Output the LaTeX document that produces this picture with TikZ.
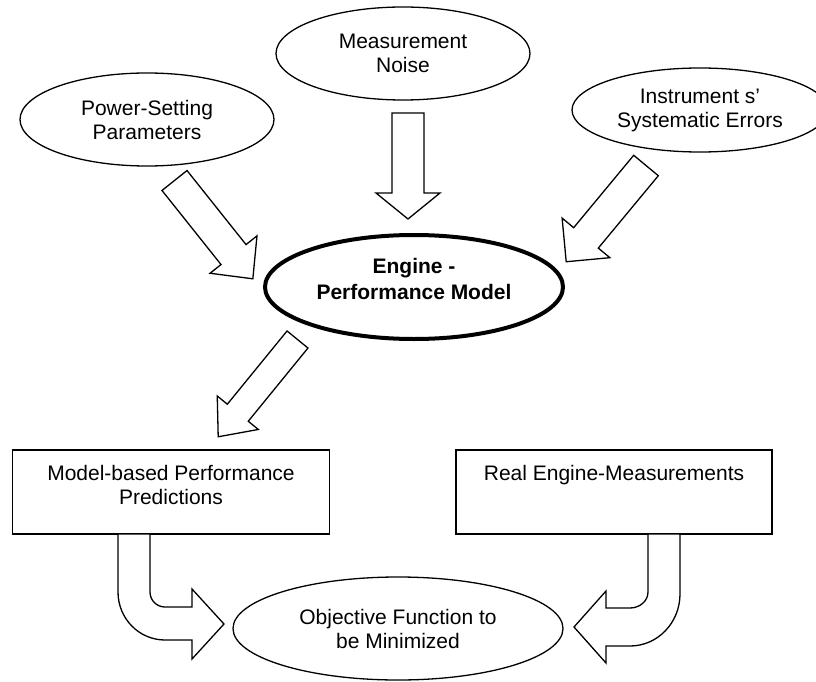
\documentclass[tikz,border=0pt]{standalone}
\usepackage{fontspec}
\setmainfont{Liberation Sans}
\usetikzlibrary{calc,shapes.geometric}

\tikzset{
  base/.style={font=\fontsize{21pt}{24pt}\selectfont, inner sep=0pt, outer sep=0pt,
    line width=1.3pt, draw=black, fill=white},
  oval/.style={base, ellipse, align=center},
  heavyoval/.style={oval, line width=4pt, font=\fontsize{21pt}{26pt}\selectfont\bfseries},
  box/.style={base, rectangle},
  blockarrow/.style={draw=black, fill=white, line width=1.3pt, line join=miter},
}

% Straight block arrow from tail centre #1 to tip #2;
% #3 half shaft width, #4 half head width, #5 head length (all in pt)
\newcommand\blockarrow[5]{%
  \path let \p1=($(#2)-(#1)$) in \pgfextra{%
    \pgfmathsetmacro\baAng{atan2(\y1,\x1)}%
    \pgfmathsetmacro\baLen{veclen(\x1,\y1)}%
    \xdef\baAngG{\baAng}\xdef\baLenG{\baLen}};
  \pgfmathsetmacro\baBase{\baLenG-#5}%
  \draw[blockarrow, shift={(#1)}, rotate=\baAngG]
    (0pt,-#3pt) -- (\baBase pt,-#3pt) -- (\baBase pt,-#4pt) -- (\baLenG pt,0pt)
    -- (\baBase pt,#4pt) -- (\baBase pt,#3pt) -- (0pt,#3pt) -- cycle;
}

\begin{document}
\begin{tikzpicture}[x=1pt, y=-1pt]
  \useasboundingbox (0,0) rectangle (816,682);

  % inputs
  \node[oval, minimum width=254pt, minimum height=93pt] (pwr) at (147,119.5) {Power-Setting\\Parameters};
  \node[oval, minimum width=254pt, minimum height=93pt] (noise) at (403,53.5) {Measurement\\Noise};
  \node[oval, minimum width=256pt, minimum height=84pt] (instr) at (700,110) {Instrument s’\\Systematic Errors};

  % model
  \node[heavyoval, minimum width=298pt, minimum height=104pt, text depth=17pt] (eng) at (414,287) {Engine -\\Performance Model};

  % outputs
  \node[box, minimum width=317pt, minimum height=84pt] (pred) at (171,492)
    {\parbox[c][84pt][t]{317pt}{\centering\rule{0pt}{30pt}Model-based Performance\\Predictions}};
  \node[box, minimum width=316pt, minimum height=84pt] (meas) at (614,492)
    {\parbox[c][84pt][t]{316pt}{\centering\rule{0pt}{30pt}Real Engine-Measurements}};

  \node[oval, minimum width=330pt, minimum height=103pt] (obj) at (398,628.5) {Objective Function to\\be Minimized};

  % arrow end points
  \coordinate (pwr-out) at (174.5,180.5);
  \coordinate (eng-in-l) at (253,279);
  \coordinate (noise-out) at (408,113);
  \coordinate (eng-in-t) at (408,219);
  \coordinate (instr-out) at (646,165.5);
  \coordinate (eng-in-r) at (566,262);
  \coordinate (eng-out) at (297.5,339.5);
  \coordinate (pred-in) at (218,437);

  \blockarrow{pwr-out}{eng-in-l}{16}{30}{31}
  \blockarrow{noise-out}{eng-in-t}{16}{32}{26}
  \blockarrow{instr-out}{eng-in-r}{16}{31}{31}
  \blockarrow{eng-out}{pred-in}{13.5}{26.5}{31}

  % bent arrow: predictions -> objective
  \draw[blockarrow] (118,534) -- (118,592)
    arc[start angle=180, end angle=270, x radius=47pt, y radius=48pt]
    -- (192,640) -- (192,659) -- (224,624) -- (192,589) -- (192,607) -- (165,607)
    arc[start angle=270, end angle=180, x radius=15pt, y radius=15pt]
    -- (150,534) -- cycle;

  % bent arrow: measurements -> objective
  \draw[blockarrow] (648,534) -- (648,592)
    arc[start angle=0, end angle=-90, x radius=18pt, y radius=16pt]
    -- (606,608) -- (606,591) -- (574,627) -- (606,663) -- (606,646) -- (630,646)
    arc[start angle=-90, end angle=0, x radius=50pt, y radius=52pt]
    -- (680,534) -- cycle;
\end{tikzpicture}
\end{document}
